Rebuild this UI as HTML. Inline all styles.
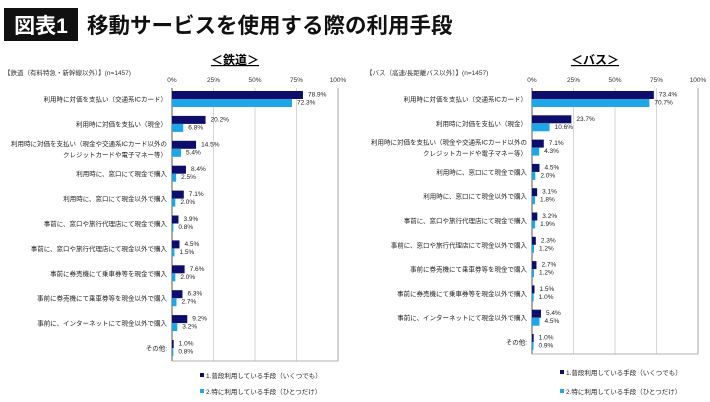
<!DOCTYPE html>
<html><head><meta charset="utf-8">
<style>
body{margin:0;background:#fff;}
#wrap{position:relative;width:710px;height:402px;overflow:hidden;font-family:"Liberation Sans","Noto Sans CJK JP",sans-serif;}
</style></head>
<body>
<div id="wrap">
<svg id="svg" width="710" height="402" xmlns="http://www.w3.org/2000/svg" style="font-family:'Liberation Sans','Noto Sans CJK JP',sans-serif">
  <rect x="4" y="8" width="74" height="33" fill="#111"/>
  <text x="41" y="33" fill="#fff" font-size="21" font-weight="bold" text-anchor="middle">図表1</text>
  <text x="87" y="33" fill="#111" font-size="21.5" font-weight="bold">移動サービスを使用する際の利用手段</text>
</svg>
</div>
<script>
const categories=["利用時に対価を支払い（交通系ICカード）","利用時に対価を支払い（現金）","利用時に対価を支払い（現金や交通系ICカード以外の|クレジットカードや電子マネー等）","利用時に、窓口にて現金で購入","利用時に、窓口にて現金以外で購入","事前に、窓口や旅行代理店にて現金で購入","事前に、窓口や旅行代理店にて現金以外で購入","事前に券売機にて乗車券等を現金で購入","事前に券売機にて乗車券等を現金以外で購入","事前に、インターネットにて現金以外で購入","その他:"];
const railUsual=[78.9,20.2,14.5,8.4,7.1,3.9,4.5,7.6,6.3,9.2,1.0];
const railMain=[72.3,6.8,5.4,2.5,2.0,0.8,1.5,2.0,2.7,3.2,0.8];
const busUsual=[73.4,23.7,7.1,4.5,3.1,3.2,2.3,2.7,1.5,5.4,1.0];
const busMain=[70.7,10.6,4.3,2.0,1.8,1.9,1.2,1.2,1.0,4.5,0.9];
const ticks=[0,25,50,75,100];
const tickLabels=["0%","25%","50%","75%","100%"];
const NS="http://www.w3.org/2000/svg";
const svg=document.getElementById('svg');
function el(t,a,txt){const e=document.createElementNS(NS,t);for(const k in a)e.setAttribute(k,a[k]);if(txt!==undefined)e.textContent=txt;svg.appendChild(e);return e;}
function panel(cfg){
  const x=v=>cfg.x0+(cfg.x1-cfg.x0)*v/100;
  const y=i=>cfg.r0+i*cfg.step;
  let t=el('text',{x:(cfg.x0+cfg.x1)/2-20,y:64,'font-size':12,'font-weight':'bold','text-anchor':'middle','text-decoration':'underline'},cfg.title);
  
  
  t=el('text',{x:cfg.nx,y:75,'font-size':6.5,fill:'#333'},cfg.note);
  
  
  ticks.forEach((v,i)=>{
    if(i>0){const g=el('line',{x1:x(v),x2:x(v),y1:cfg.top,y2:cfg.bot,stroke:'#ccc','stroke-width':0.8});
      
      }
    const l=el('text',{x:x(v),y:82,'font-size':6.5,'text-anchor':'middle',fill:'#333'},tickLabels[i]);
    
    
  });
  const ax=el('line',{x1:x(0),x2:x(0),y1:cfg.top,y2:cfg.bot,stroke:'#555','stroke-width':1});
  
  
  const bx=el('polyline',{points:`${x(0)},${cfg.bot} ${x(100)},${cfg.bot} ${x(100)},${cfg.top}`,fill:'none',stroke:'#999','stroke-width':0.8});
  
  
  categories.forEach((c,i)=>{
    const cy=y(i);
    const parts=c.split('|');
    parts.forEach((p,j)=>{
      const ty=cy+2.5+(j-(parts.length-1)/2)*11;
      const lt=el('text',{x:x(0)-5,y:ty,'font-size':6.5,'text-anchor':'end',fill:'#222'},p);
      
      
    });
    [[cfg.a,'#0d0d6b',-8,'usual'],[cfg.b,'#1ea7e6',0,'main']].forEach(([arr,col,off,nm])=>{
      const v=arr[i];
      const r=el('rect',{x:x(0),y:cy+off,width:x(v)-x(0),height:8,fill:col});
      
      
      const vt=el('text',{x:x(v)+5,y:cy+off+5.5,'font-size':6.5,fill:'#222'},v.toFixed(1)+'%');
      
      
    });
  });
  [['#0d0d6b','■1.普段利用している手段（いくつでも）',cfg.ly1],['#1ea7e6','■2.特に利用している手段（ひとつだけ）',cfg.ly2]].forEach(([col,txt,ly],k)=>{
    const s=el('rect',{x:cfg.lx,y:ly-5,width:4,height:4,fill:col});
    
    
    const lt=el('text',{x:cfg.lx+6,y:ly,'font-size':6.5,fill:'#222'},txt.slice(1));
    
    
  });
}
panel({id:'rail',title:'＜鉄道＞',note:'【鉄道（有料特急・新幹線以外）】(n=1457)',nx:4,x0:172,x1:338,top:88,bot:361,r0:99,step:24.9,a:railUsual,b:railMain,lx:200,ly1:378,ly2:394});
panel({id:'bus',title:'＜バス＞',note:'【バス（高速/長距離バス以外）】(n=1457)',nx:366,x0:532,x1:698,top:88,bot:354,r0:99,step:24.3,a:busUsual,b:busMain,lx:560,ly1:375,ly2:394});
</script>
</body></html>
